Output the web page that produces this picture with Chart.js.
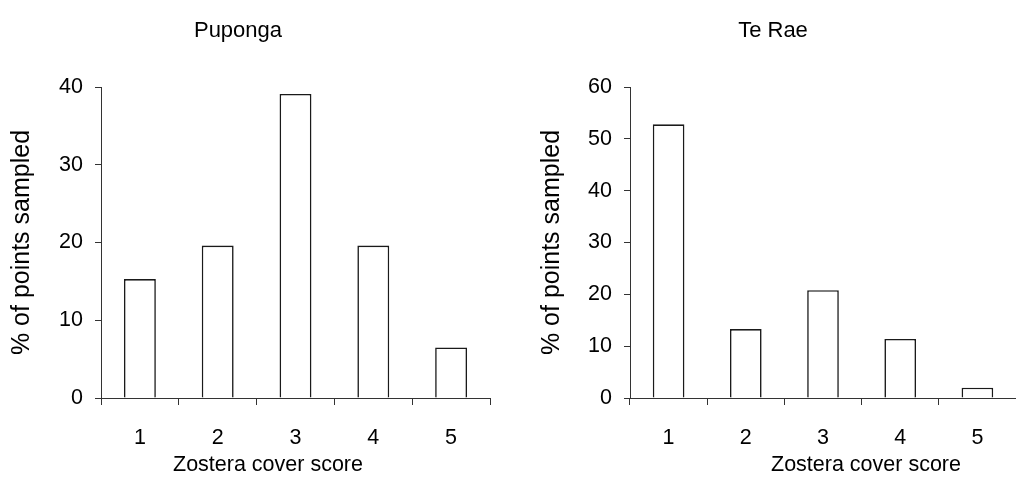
<!DOCTYPE html>
<html>
<head>
<meta charset="utf-8">
<script src="https://cdn.jsdelivr.net/npm/chart.js@4"></script>
<style>
  html, body { margin: 0; padding: 0; background: #fff; }
  #wrap { position: relative; width: 1016px; height: 487px; font-family: "Liberation Sans", Arial, sans-serif; color: #000; }
  .box { position: absolute; top: 0; width: 508px; height: 487px; }
  .lbl { position: absolute; white-space: nowrap; transform: translateX(-50%); }
  .ttl { font-size: 22px; top: 17px; }
  .xt { font-size: 21.5px; top: 452px; }
</style>
</head>
<body>
<div id="wrap">
  <div class="box" style="left:0"><canvas id="left"></canvas></div>
  <div class="box" style="left:508px"><canvas id="right"></canvas></div>
  <div class="lbl ttl" style="left:238px">Puponga</div>
  <div class="lbl ttl" style="left:773px">Te Rae</div>
  <div class="lbl xt" style="left:268px">Zostera cover score</div>
  <div class="lbl xt" style="left:866px">Zostera cover score</div>
</div>
<script>
// data
const scores = ["1", "2", "3", "4", "5"];
const pupongaPct = [15.3, 19.6, 39.1, 19.6, 6.5];
const teRaePct = [52.8, 13.3, 20.8, 11.4, 2.0];
const pupongaTicks = [0, 10, 20, 30, 40];
const teRaeTicks = [0, 10, 20, 30, 40, 50, 60];

const yTitle = "% of points sampled";
const font = "Liberation Sans";

Chart.defaults.font.family = font;
Chart.defaults.color = "#000";

function makeChart(id, values, ticks, yWidth, padRight, titlePad) {
    const ctx = document.getElementById(id).getContext("2d");
    return new Chart(ctx, {
        type: "bar",
        data: {
            labels: scores,
            datasets: [{
                data: values,
                backgroundColor: "#fff",
                borderColor: "#1a1a1a",
                borderWidth: 1.6,
                barPercentage: 0.41,
                categoryPercentage: 1
            }]
        },
        options: {
            responsive: true,
            maintainAspectRatio: false,
            animation: false,
            layout: { padding: { top: 87, right: padRight, bottom: 0, left: 0 } },
            plugins: {
                legend: { display: false },
                tooltip: { enabled: false }
            },
            scales: {
                x: {
                    afterFit: s => { s.height = 89; },
                    grid: { drawOnChartArea: false, tickLength: 7, color: "#333", offset: true },
                    border: { color: "#333", width: 1 },
                    ticks: { font: { size: 21.5 }, padding: 20, color: "#000" }
                },
                y: {
                    min: ticks[0],
                    max: ticks[ticks.length - 1],
                    afterFit: s => { s.width = yWidth; },
                    afterBuildTicks: s => { s.ticks = ticks.map(v => ({ value: v })); },
                    grid: { drawOnChartArea: false, tickLength: 6, color: "#333" },
                    border: { color: "#333", width: 1 },
                    ticks: { font: { size: 21.5 }, padding: 12, color: "#000" },
                    title: { display: true, text: yTitle, font: { size: 25 }, padding: { top: titlePad, bottom: 0 } }
                }
            }
        }
    });
}

makeChart("left", pupongaPct, pupongaTicks, 101, 18, 7);
makeChart("right", teRaePct, teRaeTicks, 122, 0, 29);
</script>
</body>
</html>
